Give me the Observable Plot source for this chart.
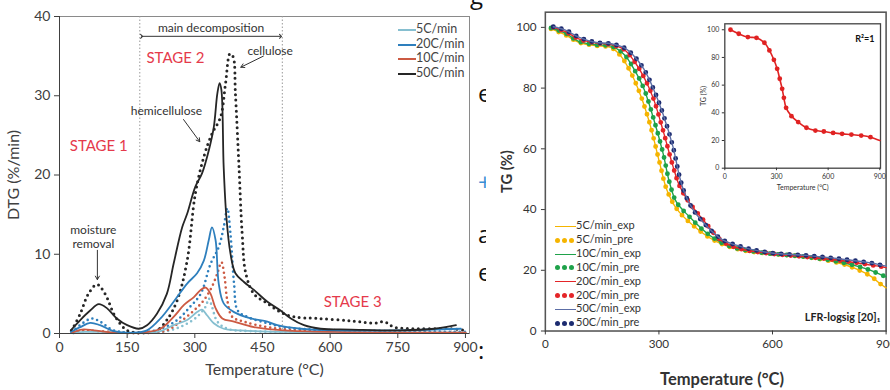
<!DOCTYPE html>
<html><head><meta charset="utf-8">
<script src="https://cdn.jsdelivr.net/npm/d3@7"></script>
<script src="https://cdn.jsdelivr.net/npm/@observablehq/plot@0.6"></script>
<style>
body{margin:0;width:890px;height:390px;overflow:hidden;position:relative;background:#fff;font-family:Lato,"Open Sans",sans-serif;}
.abs{position:absolute;}
.leg{position:absolute;white-space:nowrap;color:#444;}
</style></head><body>
<div id="frag" class="abs" style="left:470px;top:0;width:16px;height:390px;overflow:hidden"></div>
<div id="left" class="abs" style="left:0;top:0"></div>
<div id="right" class="abs" style="left:500px;top:0;width:390px;height:390px;overflow:hidden"></div>
<div id="inset" class="abs" style="left:690px;top:0"></div>
<div id="rightXLabel" class="abs" style="left:602px;top:369px;width:240px;text-align:center;font-size:16.5px;font-weight:bold;color:#333"></div>
<div id="legL"></div>
<div id="legR"></div>
<script>
// ---------- LEFT CHART DATA (DTG, %/min) ----------
const T_50 = [25,46,68,87,105,127,150,176,194,216,238,253,272,283,301,316,331,342,350,355,359,364,370,379,390,409,431,461,490,513,542,579,646,757,831,879];
const V_50 = [0.4,1.7,2.9,3.7,3.2,1.9,1.05,0.6,1.05,2.5,5,8.8,13.4,15.1,18.5,20.2,23.1,26,30.3,31.6,30.7,21,14.7,10.1,7.6,6.5,5.5,4,2.9,1.9,1.05,0.6,0.5,0.4,0.6,1.05];
const T_50d = [27,46,64,83,101,124,150,179,216,238,261,283,301,320,338,357,368,378,385,390,398,405,413,431,461,490,520,572,646,698,720,742,794,868,900];
const V_50d = [0.4,2.5,5,6.2,5,2.1,0.4,0.1,0.4,1.7,4.2,9.2,17.6,22.3,25.2,27.3,31.5,35.3,34.9,30.3,21,12.6,7.6,5,3.8,2.7,2.1,1.9,1.6,1.3,1.5,0.8,0.6,0.6,0.4];
const T_20 = [25,46,68,90,120,164,194,224,253,283,305,320,331,338,346,353,364,387,424,461,483,535,609,757,890];
const V_20 = [0.2,0.8,1.35,1.05,0.3,0.1,0.4,1.9,4,6.3,7.6,9.2,11.8,13.4,11.8,6.3,3.8,2.7,1.9,1.5,1.05,0.6,0.4,0.4,0.6];
const T_20d = [27,50,72,90,120,179,224,261,290,313,335,353,364,372,379,387,395,416,461,498,572,900];
const V_20d = [0.2,1.25,1.9,1.5,0.4,0.1,0.6,1.7,3.4,5,8.8,10.9,13.4,15.8,12.6,6.3,2.9,2.1,1.3,0.8,0.5,0.2];
const T_10 = [27,50,76,113,179,224,253,276,298,313,324,335,346,361,387,431,498,609,900];
const V_10 = [0.1,0.5,0.4,0.15,0.1,0.6,2.1,3.6,4.6,5.5,5.8,5,3.2,1.9,1.5,0.8,0.4,0.2,0.1];
const T_10d = [31,53,83,179,238,268,298,320,338,350,359,366,372,383,409,461,535,900];
const V_10d = [0.1,0.4,0.3,0.05,0.4,1.5,2.9,4.2,5.9,7.6,9.0,7.1,4.2,2.1,1.5,0.8,0.4,0.1];
const T_5 = [27,53,90,179,224,253,283,305,316,327,342,364,401,498,900];
const V_5 = [0.05,0.2,0.2,0.05,0.3,1.05,1.7,2.7,3.0,2.3,1.3,0.6,0.4,0.2,0.1];
const T_5d = [31,61,179,238,276,305,324,331,338,350,372,424,900];
const V_5d = [0.05,0.3,0.05,0.3,1.05,2.1,3.4,4.4,3.4,1.5,0.6,0.3,0.1];
const leftLegend = ["5C/min","20C/min","10C/min","50C/min"];
const leftTicksX = [0,150,300,450,600,750,900];
const leftTicksY = [0,10,20,30,40];
// annotations
const stageLabels = ["STAGE 1","STAGE 2","STAGE 3"];
const stageT = [87,257,650];
const stageV = [23.6,34.8,3.9];
const noteLabels = ["main decomposition","cellulose","hemicellulose","moisture\nremoval"];
const noteT = [336,467,237,75];
const noteV = [38.6,35.7,28.1,12.2];
const decompRange = [182,490];
const stageLines = [178,494];

// ---------- RIGHT CHART DATA (TG, %) ----------
const TG_50_T = [21,53,88,131,174,208,234,260,285,311,337,354,367,388,423,466,517,560,603,689,775,861,887,900];
const TG_50_V = [100.2,99.1,96.8,95.1,94.6,93.3,90.6,86.3,79.9,71.4,60.7,51.1,45.7,40.4,35,30.2,27.8,26.5,25.6,24.9,23.8,22.4,21.7,21.4];
const TG_20_T = [21,53,88,131,174,208,234,260,285,311,337,354,379,413,466,517,603,689,775,861,887,900];
const TG_20_V = [100,98.6,96.2,94.9,94.3,92.7,89,83.7,76.7,66,54.3,47.9,42.5,37.2,29.7,27,25.4,24.4,23.3,21.7,21.2,20.9];
const TG_10_T = [15,53,88,131,174,208,234,260,285,311,328,346,380,431,483,560,689,775,844,887,900];
const TG_10_V = [99.8,98.1,95.4,94.3,93.8,91.1,86.3,79.9,70.3,58.5,48.9,42.5,37.7,31.8,28.1,26,24.4,22.8,20.6,18.5,17.8];
const TG_5_T = [15,53,88,131,174,199,225,251,276,302,320,346,388,448,517,603,689,775,818,861,887,900];
const TG_5_V = [99.5,97.5,95.1,94,93.3,90.6,85.3,77.8,68.2,55.3,46.8,40.4,35,29.7,26.7,25.4,24.4,22.4,20.6,17.9,15.3,14.2];
const rightLegend = ["5C/min_exp","5C/min_pre","10C/min_exp","10C/min_pre","20C/min_exp","20C/min_pre","50C/min_exp","50C/min_pre"];
const rightTicksX = [0,300,600,900];
const rightTicksY = [0,20,40,60,80,100];
const rightXTitle = "Temperature (°C)";
const INSET_T = [33,81,134,184,230,259,285,304,319,333,343,356,387,426,474,526,575,629,681,735,792,846,900];
const INSET_V = [100,97.1,94.7,94.2,90.6,85.1,78.3,71.8,64.6,57.3,50.8,43.6,37.6,33.3,29.2,27.2,26.5,25.5,24.8,24.3,23.6,22.4,20];
const modelLabel = "LFR-logsig [20]\u2081";
const r2Label = "R\u00B2=1";

// ---------- helpers ----------
const zip = (T,V,s) => T.map((t,i)=>({t, v:V[i], s}));
const colL = {"5C/min":"#86bfd0","20C/min":"#2e7fbd","10C/min":"#cc5a43","50C/min":"#262626"};
const colR = {"5":"#f5b400","10":"#1fa24a","20":"#e42528","50":"#1c2b70"};
const colRline = {"5":"#f5b400","10":"#1fa24a","20":"#e42528","50":"#5c6ea6"};

const solidL = [...zip(T_5,V_5,"5C/min"),...zip(T_10,V_10,"10C/min"),...zip(T_20,V_20,"20C/min"),...zip(T_50,V_50,"50C/min")];
const dotL = [...zip(T_5d,V_5d,"5C/min"),...zip(T_10d,V_10d,"10C/min"),...zip(T_20d,V_20d,"20C/min"),...zip(T_50d,V_50d,"50C/min")];
const ord = ["5C/min","10C/min","20C/min","50C/min"];

const left = Plot.plot({
  width: 480, height: 390,
  marginLeft: 59, marginRight: 11, marginTop: 16, marginBottom: 57,
  style: {fontFamily: "Lato, sans-serif", background: "transparent", color: "#404040"},
  x: {domain: [0, 909]},
  y: {domain: [0, 40]},
  marks: [
    Plot.frame({stroke: "#8a8a8a"}),
    Plot.ruleX(stageLines, {stroke: "#9a9a9a", strokeDasharray: "1.5,2"}),
    ...ord.map(s => Plot.line(dotL.filter(d=>d.s===s), {x:"t", y:"v", stroke: colL[s], strokeWidth: s==="50C/min"?3:2.6, strokeDasharray: s==="50C/min"?"0,5.5":"0,5", strokeLinecap:"round", curve:"catmull-rom"})),
    ...ord.map(s => Plot.line(solidL.filter(d=>d.s===s), {x:"t", y:"v", stroke: colL[s], strokeWidth: 1.8, curve:"catmull-rom"})),
    Plot.axisX({ticks: leftTicksX, tickSize: 5, fontSize: 14, label: "Temperature (°C)", labelAnchor: "center", labelOffset: 41, labelArrow: "none", tickPadding: 4}),
    Plot.axisY({ticks: leftTicksY, tickSize: 5, fontSize: 14, label: "DTG (%/min)", labelAnchor: "center", labelOffset: 52, labelArrow: "none", tickPadding: 4}),
    Plot.ruleX([0], {stroke: "#404040"}),
    Plot.ruleY([0], {stroke: "#404040"}),
    Plot.line([{x:decompRange[0], y:37.5},{x:decompRange[1], y:37.5}], {x:"x", y:"y", stroke:"#333", strokeWidth:1, markerStart:"arrow", markerEnd:"arrow"}),
    Plot.text(stageLabels.map((l,i)=>({l,t:stageT[i],v:stageV[i]})), {x:"t", y:"v", text:"l", fill:"#e53a4b", fontSize: 15}),
    Plot.text(noteLabels.map((l,i)=>({l,t:noteT[i],v:noteV[i]})), {x:"t", y:"v", text:"l", fill:"#333", fontSize: 12, lineHeight: 1.15}),
    Plot.arrow([{x1:452,y1:35.0,x2:402,y2:33.6},{x1:275,y1:27.0,x2:311,y2:24.2},{x1:84,y1:10.5,x2:84,y2:6.8}], {x1:"x1", y1:"y1", x2:"x2", y2:"y2", stroke:"#333", strokeWidth:1, headLength:6, inset:0})
  ]
});
left.querySelectorAll('g[aria-label="x-axis label"], g[aria-label="y-axis label"]').forEach(g=>g.setAttribute("font-size", 16));
document.getElementById("left").appendChild(left);

// ---------- right chart ----------
const rates = ["5","10","20","50"];
const TGsets = {"5":[TG_5_T,TG_5_V],"10":[TG_10_T,TG_10_V],"20":[TG_20_T,TG_20_V],"50":[TG_50_T,TG_50_V]};
const right = Plot.plot({
  width: 400, height: 390,
  marginLeft: 46, marginRight: 4.5, marginTop: 12, marginBottom: 51,
  style: {fontFamily: "Lato, sans-serif", background: "transparent", color: "#333"},
  x: {domain: [0, 900]},
  y: {domain: [0, 105]},
  marks: [
    Plot.frame({stroke: "#555", strokeWidth: 1.6}),
    ...rates.flatMap(r => {
      const data = zip(TGsets[r][0], TGsets[r][1], r);
      return [
        Plot.line(data, {x:"t", y:"v", stroke: colR[r], strokeWidth: 5, strokeDasharray: "0,8.5", strokeLinecap:"round", curve:"catmull-rom"}),
        Plot.line(data, {x:"t", y:"v", stroke: colRline[r], strokeWidth: 1.4, curve:"catmull-rom"})
      ];
    }),
    Plot.axisX({ticks: rightTicksX, tickSize: 4, fontSize: 12, label: null}),
    Plot.axisY({ticks: rightTicksY, tickSize: 4, fontSize: 12, label: "TG (%)", labelAnchor: "center", labelOffset: 45, labelArrow: "none"}),
    Plot.text([modelLabel], {frameAnchor: "bottom-right", dx: -6, dy: -10, text: d=>d, fontSize: 11, fontWeight: "bold", fill: "#222"})
  ]
});
right.querySelectorAll('g[aria-label="y-axis label"]').forEach(g=>g.setAttribute("font-size", 15));
right.querySelectorAll('g[aria-label="y-axis label"] text').forEach(t=>{t.setAttribute("font-weight","bold");});
document.getElementById("right").appendChild(right);
document.getElementById("rightXLabel").textContent = rightXTitle;

// ---------- inset ----------
const insetData = zip(INSET_T, INSET_V, "i");
const inset = Plot.plot({
  width: 200, height: 200,
  marginLeft: 34.3, marginRight: 10, marginTop: 23.3, marginBottom: 32.3,
  style: {fontFamily: "Lato, sans-serif", background: "transparent", color: "#333"},
  x: {domain: [0, 904]},
  y: {domain: [0, 104.3]},
  marks: [
    Plot.frame({stroke: "#444", strokeWidth: 1.3, fill: "white"}),
    Plot.line(insetData, {x:"t", y:"v", stroke:"#e02222", strokeWidth: 1.6, curve:"catmull-rom"}),
    Plot.dot(insetData.slice(0,-1), {x:"t", y:"v", fill:"#e02222", r: 2.4}),
    Plot.axisX({ticks: rightTicksX, tickSize: 2.5, fontSize: 7, tickPadding: 3, label: "Temperature (°C)", labelAnchor: "center", labelOffset: 22, labelArrow: "none"}),
    Plot.axisY({ticks: rightTicksY, tickSize: 2.5, fontSize: 7, tickPadding: 3, label: "TG (%)", labelAnchor: "center", labelOffset: 24, labelArrow: "none"}),
    Plot.text([r2Label], {frameAnchor: "top-right", dx: -6, dy: 12, text: d=>d, fontSize: 9, fontWeight: "bold", fill: "#111"})
  ]
});
document.getElementById("inset").appendChild(inset);

// ---------- legends ----------
const legL = document.getElementById("legL");
leftLegend.forEach((name,i)=>{
  const d = document.createElement("div");
  d.className = "leg";
  d.style.left = "398px"; d.style.top = (21 + i*14.7) + "px";
  d.style.fontSize = "12.5px";
  d.innerHTML = `<span style="display:inline-block;width:18px;border-top:2px solid ${colL[name]};vertical-align:middle;margin-right:0px"></span>${name}`;
  legL.appendChild(d);
});
const legR = document.getElementById("legR");
rightLegend.forEach((name,i)=>{
  const r = name.split("C")[0];
  const d = document.createElement("div");
  d.className = "leg";
  d.style.left = "555px"; d.style.top = (218 + i*13.9) + "px";
  d.style.fontSize = "11px"; d.style.color = "#333";
  const sample = name.endsWith("exp")
    ? `<span style="display:inline-block;width:21px;border-top:1.6px solid ${colRline[r]};vertical-align:middle"></span>`
    : `<span style="display:inline-block;width:21px;vertical-align:middle;line-height:0">` + [0,1,2].map(()=>`<span style="display:inline-block;width:5px;height:5px;border-radius:50%;background:${colR[r]};margin-right:2.2px"></span>`).join("") + `</span>`;
  d.innerHTML = sample + name;
  legR.appendChild(d);
});

// ---------- stray text fragments between the two figures ----------
const fragChars = ["g","e","+","a","e",":"];
const fragTops = [-22,76,165,217,255,333];
const fragColors = ["#111","#111","#3b8fd6","#111","#111","#111"];
const frag = document.getElementById("frag");
fragChars.forEach((c,i)=>{
  const s = document.createElement("div");
  s.className = "abs";
  s.style.left = (i===0?0:8) + "px"; s.style.top = fragTops[i] + "px";
  s.style.fontSize = "24px"; s.style.color = fragColors[i]; s.style.fontFamily = "'Open Sans',sans-serif";
  s.textContent = c;
  frag.appendChild(s);
});
</script>
</body></html>
